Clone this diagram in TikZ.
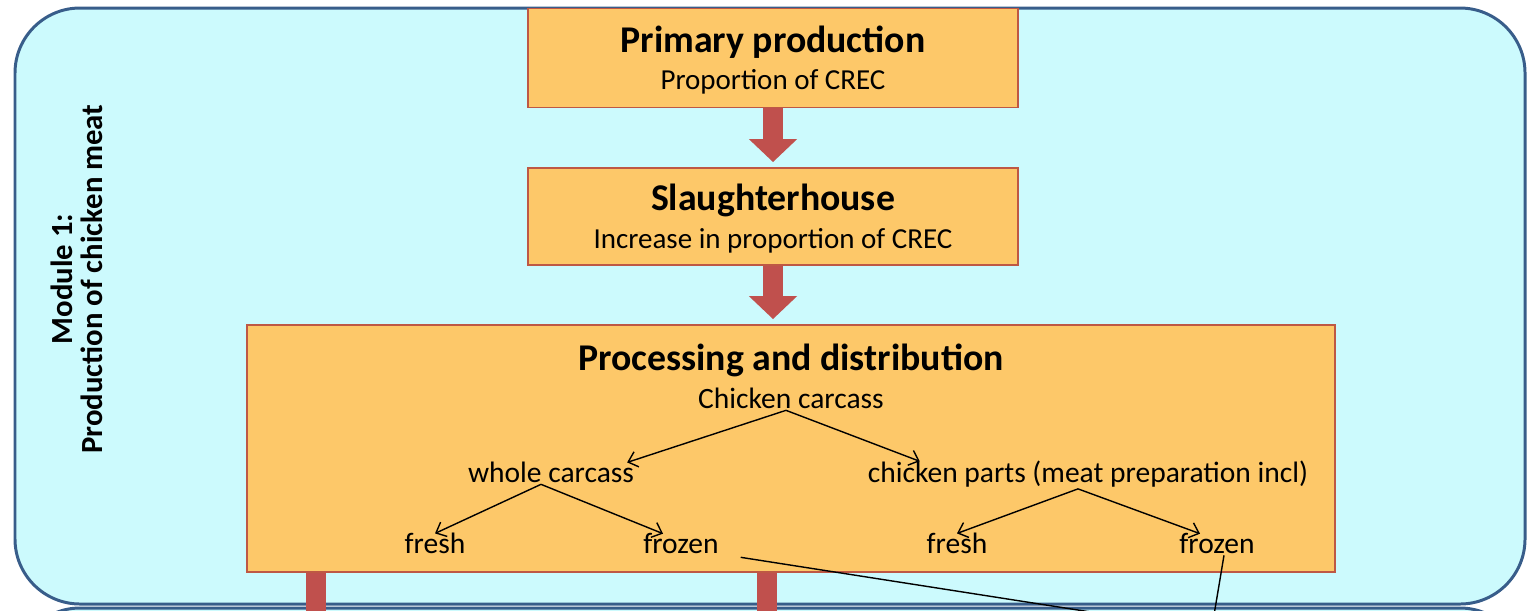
\documentclass[tikz,border=0pt]{standalone}
\usepackage{fontspec}
\setmainfont{Carlito}
\usepackage{tikz}
\usetikzlibrary{arrows.meta,positioning}

\definecolor{modfill}{RGB}{204,250,253}
\definecolor{modline}{RGB}{56,93,138}
\definecolor{boxfill}{RGB}{253,200,105}
\definecolor{boxline}{RGB}{190,88,68}
\definecolor{flow}{RGB}{192,80,77}

\tikzset{
  module/.style={draw=modline,fill=modfill,line width=1.7pt,rounded corners=1.3cm},
  stage/.style={draw=boxline,fill=boxfill,line width=1.1pt,minimum width=9.8cm,inner sep=0pt},
  stagehead/.style={anchor=base,inner sep=1pt,font=\bfseries\fontsize{21.5}{24}\selectfont},
  stagesub/.style={anchor=base,inner sep=1pt,font=\fontsize{16.5}{20}\selectfont},
  item/.style={anchor=base,inner sep=1pt,font=\fontsize{16.8}{20}\selectfont},
  flowarrow/.style={flow,line width=0.4cm,-{Triangle[width=0.94cm,length=0.46cm]},shorten >=0.1cm},
  flowbar/.style={flow,line width=0.4cm},
  branch/.style={black,line width=0.8pt,-{Straight Barb[length=5pt,width=9pt]}},
  link/.style={black,line width=0.8pt},
}

\begin{document}
\begin{tikzpicture}[x=0.02cm,y=-0.02cm]
\useasboundingbox (0,0) rectangle (1530,610);
\clip (0,0) rectangle (1530,610);

% Module 1 and the top of module 2
\path[module] (15,8) rectangle (1525,604);
\path[module] (15,608) rectangle (1525,900);
\node[rotate=90,align=center,font=\bfseries\fontsize{17.5}{17}\selectfont] (modlabel)
  at (77,279) {Module 1:\\Production of chicken meat};

% Stages
\node[stage,minimum height=1.98cm] (primary) at (773,58) {};
\node[stagehead] (primaryhead) at (773,52) {Primary production};
\node[stagesub] (primarysub) at (773,89) {Proportion of CREC};

\node[stage,minimum height=1.94cm] (slaughter) at (773,216.5) {};
\node[stagehead] (slaughterhead) at (773,210) {Slaughterhouse};
\node[stagesub] (slaughtersub) at (773,248) {Increase in proportion of CREC};

\node[stage,minimum width=21.76cm,minimum height=4.94cm] (processing) at (791,448.5) {};
\node[stagehead] (processinghead) at (791,370) {Processing and distribution};

\draw[flowarrow] (primary.south) -- (slaughter.north);
\draw[flowarrow] (slaughter.south) -- (slaughter.south |- processing.north);

% Carcass tree
\node[item] (carcass) at (791,408) {Chicken carcass};
\node[item] (whole) at (551,482) {whole carcass};
\node[item] (parts) at (1088,482) {chicken parts (meat preparation incl)};
\node[item] (wfresh) at (435,553) {fresh};
\node[item] (wfrozen) at (681,553) {frozen};
\node[item] (pfresh) at (957,553) {fresh};
\node[item] (pfrozen) at (1217,553) {frozen};

\draw[branch] ([xshift=-0.1cm]carcass.south) -- ([xshift=-0.18cm,yshift=-0.06cm]whole.north east);
\draw[branch] ([xshift=-0.1cm]carcass.south) -- ([xshift=1.08cm,yshift=-0.06cm]parts.north west);
\draw[branch] ([xshift=-0.2cm]whole.south) -- ([yshift=-0.06cm]wfresh.north);
\draw[branch] ([xshift=-0.2cm]whole.south) -- ([xshift=-0.36cm,yshift=-0.06cm]wfrozen.north);
\draw[branch] ([xshift=-0.2cm]parts.south) -- ([yshift=-0.06cm]pfresh.north);
\draw[branch] ([xshift=-0.2cm]parts.south) -- ([xshift=-0.34cm,yshift=-0.06cm]pfrozen.north);

% Flows into module 2
\coordinate (m2a) at (316,620);
\coordinate (m2b) at (767,620);
\coordinate (wlink) at (1110,615);
\coordinate (plink) at (1214,615);
\draw[flowbar] (processing.south -| m2a) -- (m2a);
\draw[flowbar] (processing.south -| m2b) -- (m2b);
\draw[link] ([shift={(20,2)}]wfrozen.south east) -- (wlink);
\draw[link] ([xshift=0.14cm]pfrozen.south) -- (plink);

\end{tikzpicture}
\end{document}
